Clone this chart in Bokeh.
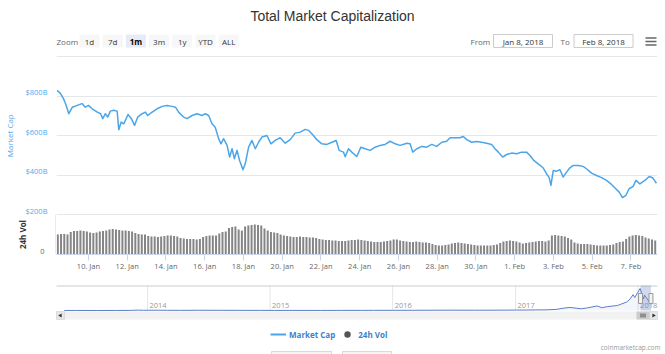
import math
import pandas as pd
from bokeh.plotting import figure
from bokeh.layouts import column, row
from bokeh.models import Range1d, FixedTicker, CustomJSTickFormatter, Grid, Legend, LegendItem
from bokeh.embed import file_html
from bokeh.resources import INLINE
from bokeh.core.properties import value

# ------------------------------------------------------------------ data
chart_title = "Total Market Capitalization"

mcap_time = [
    "2018-01-08 09:00", "2018-01-08 13:00", "2018-01-08 17:00", "2018-01-08 19:30", "2018-01-08 23:40",
    "2018-01-09 04:00", "2018-01-09 10:00", "2018-01-09 16:00", "2018-01-09 20:00", "2018-01-10 00:00",
    "2018-01-10 04:30", "2018-01-10 11:00", "2018-01-10 15:00", "2018-01-10 17:40", "2018-01-10 21:00",
    "2018-01-10 23:50", "2018-01-11 03:00", "2018-01-11 07:20", "2018-01-11 11:30", "2018-01-11 13:30",
    "2018-01-11 16:30", "2018-01-11 19:40", "2018-01-12 01:00", "2018-01-12 05:10", "2018-01-12 09:00",
    "2018-01-12 13:00", "2018-01-12 18:30", "2018-01-12 22:30", "2018-01-13 01:20", "2018-01-13 06:50",
    "2018-01-13 13:00", "2018-01-13 19:10", "2018-01-14 01:20", "2018-01-14 07:30", "2018-01-14 11:40",
    "2018-01-14 15:40", "2018-01-14 21:50", "2018-01-15 02:00", "2018-01-15 08:20", "2018-01-15 14:30",
    "2018-01-15 20:40", "2018-01-16 00:40", "2018-01-16 04:50", "2018-01-16 09:00", "2018-01-16 13:00",
    "2018-01-16 17:10", "2018-01-16 20:10", "2018-01-16 23:20", "2018-01-17 03:40", "2018-01-17 06:50",
    "2018-01-17 09:50", "2018-01-17 12:40", "2018-01-17 16:00", "2018-01-17 19:10", "2018-01-17 23:20",
    "2018-01-18 02:10", "2018-01-18 06:20", "2018-01-18 10:30", "2018-01-18 14:40", "2018-01-18 18:40",
    "2018-01-18 22:50", "2018-01-19 05:00", "2018-01-19 10:00", "2018-01-19 15:20", "2018-01-19 21:30",
    "2018-01-20 03:40", "2018-01-20 09:50", "2018-01-20 16:00", "2018-01-20 22:20", "2018-01-21 04:30",
    "2018-01-21 08:30", "2018-01-21 14:40", "2018-01-21 18:50", "2018-01-22 01:00", "2018-01-22 07:20",
    "2018-01-22 13:30", "2018-01-22 18:50", "2018-01-22 22:30", "2018-01-23 03:50", "2018-01-23 06:00",
    "2018-01-23 10:00", "2018-01-23 14:10", "2018-01-23 20:20", "2018-01-24 01:20", "2018-01-24 06:40",
    "2018-01-24 12:50", "2018-01-24 19:00", "2018-01-25 01:10", "2018-01-25 07:20", "2018-01-25 13:40",
    "2018-01-25 19:50", "2018-01-26 02:00", "2018-01-26 10:20", "2018-01-26 14:20", "2018-01-26 17:40",
    "2018-01-26 22:40", "2018-01-27 04:50", "2018-01-27 11:00", "2018-01-27 17:10", "2018-01-27 23:20",
    "2018-01-28 05:40", "2018-01-28 11:40", "2018-01-28 15:50", "2018-01-28 22:00", "2018-01-29 04:10",
    "2018-01-29 08:20", "2018-01-29 12:30", "2018-01-29 18:40", "2018-01-30 00:50", "2018-01-30 07:00",
    "2018-01-30 13:10", "2018-01-30 19:20", "2018-01-30 23:30", "2018-01-31 03:40", "2018-01-31 09:00",
    "2018-01-31 14:00", "2018-01-31 20:10", "2018-02-01 02:20", "2018-02-01 08:30", "2018-02-01 14:40",
    "2018-02-01 18:50", "2018-02-01 23:40", "2018-02-02 05:00", "2018-02-02 11:10", "2018-02-02 15:20",
    "2018-02-02 18:40", "2018-02-02 20:50", "2018-02-02 23:40", "2018-02-03 03:50", "2018-02-03 08:00",
    "2018-02-03 12:00", "2018-02-03 16:10", "2018-02-03 20:20", "2018-02-04 00:30", "2018-02-04 06:30",
    "2018-02-04 12:40", "2018-02-04 16:50", "2018-02-04 23:10", "2018-02-05 05:20", "2018-02-05 11:30",
    "2018-02-05 17:40", "2018-02-05 23:50", "2018-02-06 05:10", "2018-02-06 09:20", "2018-02-06 13:30",
    "2018-02-06 17:40", "2018-02-06 21:40", "2018-02-07 02:40", "2018-02-07 06:00", "2018-02-07 11:00",
    "2018-02-07 17:10", "2018-02-07 22:30", "2018-02-08 02:40", "2018-02-08 07:30",
]
mcap_billion = [
    829, 815, 787, 763, 711, 744, 753, 762, 744, 753,
    736, 719, 711, 686, 711, 694, 724, 728, 724, 630,
    669, 660, 707, 686, 652, 694, 711, 719, 702, 719,
    736, 748, 753, 748, 744, 719, 694, 686, 702, 711,
    702, 711, 702, 660, 643, 585, 559, 585, 551, 492,
    534, 484, 526, 475, 428, 458, 542, 576, 534, 567,
    593, 601, 559, 576, 590, 562, 580, 613, 618, 632,
    627, 601, 580, 559, 556, 567, 576, 526, 517, 494,
    534, 517, 495, 542, 534, 526, 542, 551, 556, 572,
    559, 551, 562, 559, 517, 534, 546, 542, 556, 546,
    567, 572, 590, 590, 590, 596, 580, 567, 571, 567,
    562, 556, 534, 517, 492, 505, 512, 509, 517, 517,
    500, 475, 458, 438, 408, 388, 349, 424, 421, 428,
    391, 416, 438, 450, 450, 445, 433, 411, 399, 388,
    374, 354, 332, 315, 287, 298, 332, 344, 374, 357,
    374, 394, 388, 360,
]

# 24h volume, one column every 4 hours from Jan 8 10:00
vol_first = "2018-01-08 10:00"
vol_step_hours = 4
vol_billion = [
    40, 41, 41, 40, 45, 47, 47, 48, 47, 46,
    44, 43, 44, 46, 47, 48, 50, 51, 50, 49,
    48, 48, 47, 46, 43, 41, 40, 40, 37, 36,
    36, 35, 36, 37, 38, 38, 37, 36, 33, 32,
    31, 31, 31, 30, 31, 35, 37, 38, 38, 38,
    42, 45, 46, 53, 55, 56, 50, 48, 56, 58,
    59, 60, 59, 58, 52, 48, 45, 44, 43, 40,
    38, 37, 36, 35, 35, 36, 35, 35, 34, 34,
    33, 31, 30, 29, 29, 28, 28, 27, 27, 27,
    28, 29, 29, 30, 29, 28, 27, 26, 25, 25,
    25, 26, 27, 28, 30, 30, 28, 27, 26, 25,
    25, 26, 25, 24, 24, 23, 21, 19, 18, 18,
    19, 20, 22, 23, 24, 23, 22, 21, 20, 19,
    18, 18, 18, 18, 18, 19, 20, 23, 26, 27,
    28, 27, 26, 24, 22, 23, 24, 25, 26, 27,
    27, 26, 28, 38, 39, 38, 37, 36, 33, 30,
    24, 22, 21, 21, 21, 20, 19, 18, 18, 18,
    18, 19, 20, 23, 25, 26, 31, 36, 38, 39,
    38, 37, 34, 32, 30, 28,
]

# navigator: whole history of the total market cap ($B)
nav_time = [
    "2013-04-28", "2013-06-01", "2013-08-01", "2013-10-01", "2013-11-15", "2013-12-04",
    "2013-12-20", "2014-01-05", "2014-02-01", "2014-03-01", "2014-04-10", "2014-06-01",
    "2014-08-01", "2014-10-01", "2014-12-01", "2015-01-14", "2015-03-01", "2015-06-01",
    "2015-08-01", "2015-10-01", "2015-11-05", "2016-01-01", "2016-03-01", "2016-06-17",
    "2016-09-01", "2016-12-01", "2017-01-04", "2017-02-01", "2017-03-01", "2017-04-01",
    "2017-05-01", "2017-05-25", "2017-06-12", "2017-07-16", "2017-08-01", "2017-09-01",
    "2017-09-15", "2017-10-01", "2017-11-01", "2017-11-28", "2017-12-08", "2017-12-17",
    "2017-12-22", "2018-01-07", "2018-01-17", "2018-01-20", "2018-02-06", "2018-02-08",
]
nav_billion = [
    1.6, 1.3, 1.2, 1.7, 5, 15,
    8, 10, 11, 8, 5.5, 8.5,
    8, 5.5, 5, 2.8, 4, 3.5,
    4.7, 4.3, 6.5, 7, 8, 12.5,
    11, 13.5, 18, 17, 22, 24,
    40, 90, 115, 65, 95, 170,
    105, 145, 190, 320, 430, 600,
    490, 830, 430, 580, 280, 360,
]

x_tick_dates = ["2018-01-10", "2018-01-12", "2018-01-14", "2018-01-16", "2018-01-18",
                "2018-01-20", "2018-01-22", "2018-01-24", "2018-01-26", "2018-01-28",
                "2018-01-30", "2018-02-01", "2018-02-03", "2018-02-05", "2018-02-07"]
x_tick_labels = ["10. Jan", "12. Jan", "14. Jan", "16. Jan", "18. Jan", "20. Jan", "22. Jan",
                 "24. Jan", "26. Jan", "28. Jan", "30. Jan", "1. Feb", "3. Feb", "5. Feb", "7. Feb"]
y_tick_values = [200, 400, 600, 800]
y_tick_labels = ["$200B", "$400B", "$600B", "$800B"]
y_grid_values = [200, 400, 600, 800, 1000]
nav_year_dates = ["2014-01-01", "2015-01-01", "2016-01-01", "2017-01-01", "2018-01-01"]
nav_year_labels = ["2014", "2015", "2016", "2017", "2018"]
zoom_buttons = ["1d", "7d", "1m", "3m", "1y", "YTD", "ALL"]
zoom_selected = "1m"
from_text, to_text = "Jan 8, 2018", "Feb 8, 2018"
view_start, view_end = "2018-01-08 08:22", "2018-02-08 08:50"
legend_labels = ["Market Cap", "24h Vol"]
credits_text = "coinmarketcap.com"


def ms(s):
    return pd.Timestamp(s).value / 1e6


def ms_list(lst):
    return [ms(s) for s in lst]


# ------------------------------------------------------------------ styles
W = 665
FONT = value("Open Sans")
BLUE_LINE = "#4aa6e9"
BLUE_LABEL = "#55a9ea"
LEGEND_BLUE = "#3d7fc9"
GREY_TXT = "#666666"
GRID = "#e6e6e6"


def bare(fig):
    fig.outline_line_color = None
    fig.grid.visible = False
    fig.background_fill_color = "white"
    fig.border_fill_color = "white"
    return fig


common = dict(output_backend="svg", toolbar_location=None, title=None)

# ------------------------------------------------------------------ header
hdr = bare(figure(width=W, height=55, x_range=Range1d(0, W), y_range=Range1d(55, 0),
                  min_border=0, x_axis_location=None, y_axis_location=None, **common))
hdr.text(x=[332], y=[15], text=[chart_title], text_align="center", text_baseline="middle",
         text_font=value("Liberation Sans"), text_font_size="14px", text_color="#333333")
hdr.text(x=[56], y=[40.5], text=["Zoom"], text_align="left", text_baseline="middle",
         text_font=FONT, text_font_size="8px", text_color=GREY_TXT)
btn_x = [89 + 23.2 * i for i in range(len(zoom_buttons))]
btn_fill = ["#e6ebf5" if b == zoom_selected else "#f7f7f7" for b in zoom_buttons]
btn_style = ["bold" if b == zoom_selected else "normal" for b in zoom_buttons]
btn_col = ["#000000" if b == zoom_selected else "#333333" for b in zoom_buttons]
hdr.rect(x=btn_x, y=[40.5] * len(btn_x), width=20, height=13, fill_color=btn_fill, line_color=None)
hdr.text(x=btn_x, y=[40.5] * len(btn_x), text=zoom_buttons, text_align="center",
         text_baseline="middle", text_font=FONT, text_font_size="8px",
         text_font_style=btn_style, text_color=btn_col)
hdr.text(x=[470, 560], y=[40.5, 40.5], text=["From", "To"], text_align="left",
         text_baseline="middle", text_font=FONT, text_font_size="8px", text_color=GREY_TXT)
hdr.rect(x=[522.5, 603], y=[40.5, 40.5], width=59, height=13, fill_color="white",
         line_color="#cccccc", line_width=1)
hdr.text(x=[522.5, 603], y=[40.5, 40.5], text=[from_text, to_text], text_align="center",
         text_baseline="middle", text_font=FONT, text_font_size="8px", text_color="#333333")
hdr.segment(x0=[645] * 3, x1=[656] * 3, y0=[37.5, 41, 44.5], y1=[37.5, 41, 44.5],
            line_color="#666666", line_width=1.6)

# ------------------------------------------------------------------ main panes
price_range = Range1d(0, 1005)
vol_range = Range1d(0, 398)

left = bare(figure(width=56, height=225, x_range=Range1d(0, 56), y_range=price_range,
                   min_border_left=0, min_border_right=0, min_border_top=0, min_border_bottom=26,
                   x_axis_location=None, y_axis_location=None, **common))
left.extra_y_ranges = {"vol": vol_range}
left.text(x=[47] * len(y_tick_values), y=y_tick_values, text=y_tick_labels, text_align="right",
          text_baseline="middle", y_offset=-4, text_font=FONT, text_font_size="7.5px",
          text_color=BLUE_LABEL)
left.text(x=[44], y=[0], text=["0"], y_range_name="vol", text_align="right", text_baseline="middle",
          y_offset=-3, text_font=FONT, text_font_size="7.5px", text_color=GREY_TXT)
left.text(x=[8.5], y=[600], text=["Market Cap"], angle=math.pi / 2, text_align="center",
          text_baseline="middle", text_font=FONT, text_font_size="8px", text_color=BLUE_LABEL)
left.text(x=[21.5], y=[40], text=["24h Vol"], y_range_name="vol", angle=math.pi / 2,
          text_align="center", text_baseline="middle", text_font=FONT, text_font_size="8px",
          text_font_style="bold", text_color="#333333")
left.segment(x0=[55.5], x1=[55.5], y0=[0], y1=[80], y_range_name="vol",
             line_color="#ccd6eb", line_width=1)

main = figure(width=609, height=225, x_range=Range1d(ms(view_start), ms(view_end)),
              y_range=price_range, min_border_left=0, min_border_right=8, min_border_top=0,
              min_border_bottom=26, y_axis_location=None, **common)
bare(main)
main.extra_y_ranges = {"vol": vol_range}
ygrid = Grid(dimension=1, ticker=FixedTicker(ticks=y_grid_values), grid_line_color=GRID,
             grid_line_width=1)
main.add_layout(ygrid, "center")

xt = ms_list(x_tick_dates)
ax = main.xaxis[0]
ax.ticker = FixedTicker(ticks=xt, minor_ticks=[])
ax.formatter = CustomJSTickFormatter(args=dict(tick_pos=xt, tick_text=x_tick_labels),
                                     code="const i = tick_pos.indexOf(tick); return i >= 0 ? tick_text[i] : '';")
ax.axis_line_color = "#ccd6eb"
ax.major_tick_line_color = "#ccd6eb"
ax.major_tick_in = 0
ax.major_tick_out = 6
ax.minor_tick_line_color = None
ax.major_label_standoff = 0
ax.major_label_text_font = "Open Sans"
ax.major_label_text_font_size = "7.5px"
ax.major_label_text_color = GREY_TXT

vol_t0 = pd.Timestamp(vol_first)
vol_x = [ms(vol_t0 + pd.Timedelta(hours=vol_step_hours * i)) for i in range(len(vol_billion))]
main.vbar(x=vol_x, top=vol_billion, bottom=0, width=vol_step_hours * 3600e3 * 0.62,
          y_range_name="vol", fill_color="#858585", line_color=None)
main.line(x=ms_list(mcap_time), y=mcap_billion, line_color=BLUE_LINE, line_width=1.5,
          line_join="round")

# ------------------------------------------------------------------ navigator + legend
nav_px_2014, nav_px_2018 = 147.0, 637.6
px_per_day = (nav_px_2018 - nav_px_2014) / 1461.0
nt_start = pd.Timestamp("2014-01-01") - pd.Timedelta(days=nav_px_2014 / px_per_day)
nt_end = pd.Timestamp("2018-01-01") + pd.Timedelta(days=(W - nav_px_2018) / px_per_day)

nav = bare(figure(width=W, height=74, x_range=Range1d(0, W), y_range=Range1d(354, 280),
                  min_border=0, x_axis_location=None, y_axis_location=None, **common))
nav.extra_x_ranges = {"nt": Range1d(ms(nt_start), ms(nt_end))}
nav.extra_y_ranges = {"ny": Range1d(-1660, 1132)}

yr_ms = ms_list(nav_year_dates)
nav.segment(x0=yr_ms, x1=yr_ms, y0=[285] * len(yr_ms), y1=[310] * len(yr_ms), x_range_name="nt",
            line_color=GRID, line_width=1)
nav.text(x=yr_ms, y=[305] * len(yr_ms), text=nav_year_labels, x_range_name="nt", x_offset=2,
         text_align="left", text_baseline="middle", text_font=FONT, text_font_size="7.5px",
         text_color="#999999")
nav.segment(x0=[56], x1=[657], y0=[285.5], y1=[285.5], line_color="#cccccc", line_width=1)
nav_x = ms_list(nav_time)
nav.varea(x=nav_x, y1=[0] * len(nav_x), y2=nav_billion, x_range_name="nt", y_range_name="ny",
          fill_color="#335cad", fill_alpha=0.06)
nav.line(x=nav_x, y=nav_billion, x_range_name="nt", y_range_name="ny",
         line_color="#5b7fc7", line_width=1)
sel = [ms(view_start), ms(view_end)]
nav.quad(left=[sel[0]], right=[sel[1]], top=[285], bottom=[310], x_range_name="nt",
         fill_color="#6685c2", fill_alpha=0.3, line_color=None)
nav.rect(x=sel, y=[298, 298], width=4, height=10, width_units="screen", height_units="screen",
         x_range_name="nt", fill_color="#f2f2f2", line_color="#999999", line_width=1)

# scrollbar
nav.quad(left=[56], right=[657], top=[311], bottom=[319], fill_color="#f2f2f2", line_color=None)
nav.quad(left=[56, 649], right=[64, 657], top=[311, 311], bottom=[319, 319],
         fill_color="#e6e6e6", line_color="#cccccc", line_width=0.5)
nav.quad(left=[636], right=[649], top=[311], bottom=[319], fill_color="#cccccc", line_color=None)
nav.segment(x0=[640.5, 642.5, 644.5], x1=[640.5, 642.5, 644.5], y0=[313] * 3, y1=[317] * 3,
            line_color="#333333", line_width=0.8)
nav.scatter(x=[60, 653], y=[315, 315], marker="triangle", angle=[math.pi / 2, -math.pi / 2],
            size=4, fill_color="#333333", line_color=None)

# legend (its sample renderers hold points placed off the canvas)
r_mc = nav.line(x=[-60, -50], y=[400, 400], line_color=BLUE_LINE, line_width=2)
r_vol = nav.scatter(x=[-60], y=[400], marker="circle", size=9, fill_color="#555555", line_color=None)
legend = Legend(items=[LegendItem(label=legend_labels[0], renderers=[r_mc]),
                       LegendItem(label=legend_labels[1], renderers=[r_vol])],
                orientation="horizontal", location=(270, 12), padding=0, margin=0, spacing=4,
                glyph_width=16, glyph_height=16, label_standoff=3,
                label_text_font="Open Sans", label_text_font_size="8px",
                label_text_font_style="bold", label_text_color=LEGEND_BLUE,
                border_line_color=None, background_fill_alpha=0)
nav.add_layout(legend, "center")

nav.text(x=[660], y=[347], text=[credits_text], text_align="right", text_baseline="middle",
         text_font=FONT, text_font_size="6.5px", text_color="#999999")
nav.quad(left=[271, 342], right=[331, 391], top=[351, 351], bottom=[360, 360],
         fill_color="#f4f4f4", line_color="#d9d9d9", line_width=1)

layout = column(hdr, row(left, main, spacing=0), nav, spacing=0)
open("out.html", "w").write(file_html(layout, INLINE))
